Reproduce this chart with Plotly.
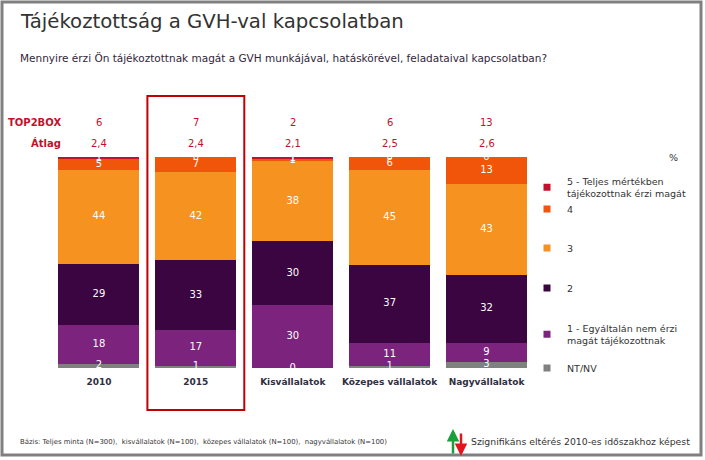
import plotly.graph_objects as go
import numpy as np

categories = ["2010", "2015", "Kisvállalatok", "Közepes vállalatok", "Nagyvállalatok"]
series_names = ["NT/NV", "1 - Egyáltalán nem érzi<br>magát tájékozottnak", "2", "3", "4",
                "5 - Teljes mértékben<br>tájékozottnak érzi magát"]
nt_nv = [2, 1, 0, 1, 3]
s1 = [18, 17, 30, 11, 9]
s2 = [29, 33, 30, 37, 32]
s3 = [44, 42, 38, 45, 43]
s4 = [5, 7, 1, 6, 13]
s5 = [1, 0, 1, 0, 0]
top2box = ["6", "7", "2", "6", "13"]
atlag = ["2,4", "2,4", "2,1", "2,5", "2,6"]
colors = ["#808080", "#7B237D", "#3B0541", "#F69220", "#F0550A", "#C3102B"]

series = [nt_nv, s1, s2, s3, s4, s5]
W, H = 705, 460
FONT = "DejaVu Sans"
CRIMSON = "#C3102B"

fig = go.Figure()
arr = np.array(series, dtype=float)
totals = arr.sum(axis=0)
norm = arr / totals * 100
cum = np.cumsum(norm, axis=0)
for i, (vals, name, col) in enumerate(zip(series, series_names, colors)):
    fig.add_trace(go.Bar(x=categories, y=vals, name=name, marker=dict(color=col, line=dict(width=0)),
                         showlegend=False, hoverinfo="skip"))
for i, vals in enumerate(series):
    mids = cum[i] - norm[i] / 2
    fig.add_trace(go.Scatter(x=categories, y=mids, mode="text", text=[str(v) for v in vals],
                             textfont=dict(color="white", size=10, family=FONT),
                             showlegend=False, hoverinfo="skip", cliponaxis=False))

# legends
legend_y = [368, 334.5, 288, 248, 209, 187.5]
layout_legends = {}
for i, (name, col) in enumerate(zip(series_names, colors)):
    lname = "legend" if i == 0 else f"legend{i+1}"
    fig.add_trace(go.Scatter(x=[None], y=[None], mode="markers", name=name,
                             marker=dict(symbol="square", size=7, color=col),
                             legend=lname, showlegend=True))
    layout_legends[lname] = dict(x=527 / W, xanchor="left", y=1 - legend_y[i] / H, yanchor="middle",
                                 bgcolor="rgba(0,0,0,0)", font=dict(family=FONT, size=9.5, color="#333333"),
                                 itemclick=False, itemdoubleclick=False)

x0, x1 = 50.5 / W, 535 / W
fig.update_layout(
    width=W, height=H, margin=dict(l=0, r=0, t=0, b=0),
    paper_bgcolor="white", plot_bgcolor="white",
    barmode="stack", barnorm="percent", bargap=0.165,
    xaxis=dict(type="category", domain=[x0, x1], range=[-0.5, 4.5], showgrid=False, zeroline=False,
               showline=False, ticks="", tickmode="array", tickvals=categories, ticklabelstandoff=7,
               ticktext=[f"<b>{c}</b>" for c in categories],
               tickfont=dict(family=FONT, size=9, color="#2F2F3F"), fixedrange=True),
    yaxis=dict(domain=[1 - 368 / H, 1 - 157 / H], range=[0, 100], visible=False, fixedrange=True),
    **layout_legends,
)

ann = []
ann.append(dict(text="Tájékoztottság a GVH-val kapcsolatban", x=18 / W, y=1 - 22 / H, xref="paper", yref="paper",
                xanchor="left", yanchor="middle", showarrow=False, font=dict(family=FONT, size=19.7, color="#333333")))
ann.append(dict(text="Mennyire érzi Ön tájékoztottnak magát a GVH munkájával, hatáskörével, feladataival kapcsolatban?",
                x=18 / W, y=1 - 58 / H, xref="paper", yref="paper", xanchor="left", yanchor="middle",
                showarrow=False, font=dict(family=FONT, size=10.5, color="#33263A")))
ann.append(dict(text="<b>TOP2BOX</b>", x=63 / W, y=1 - 122 / H, xref="paper", yref="paper", xanchor="right",
                yanchor="middle", showarrow=False, font=dict(family=FONT, size=10, color=CRIMSON)))
ann.append(dict(text="<b>Átlag</b>", x=63 / W, y=1 - 143 / H, xref="paper", yref="paper", xanchor="right",
                yanchor="middle", showarrow=False, font=dict(family=FONT, size=10, color=CRIMSON)))
for idx, (t, a) in enumerate(zip(top2box, atlag)):
    ann.append(dict(text=t, x=idx, y=1 - 122 / H, xref="x", yref="paper", yanchor="middle", showarrow=False,
                    font=dict(family=FONT, size=10, color=CRIMSON)))
    ann.append(dict(text=a, x=idx, y=1 - 143 / H, xref="x", yref="paper", yanchor="middle", showarrow=False,
                    font=dict(family=FONT, size=10, color=CRIMSON)))
ann.append(dict(text="%", x=680 / W, y=1 - 150 / H, xref="paper", yref="paper", showarrow=False,
                font=dict(family=FONT, size=9.5, color="#333333")))
ann.append(dict(text="Bázis: Teljes minta (N=300),  kisvállalatok (N=100),  közepes vállalatok (N=100),  nagyvállalatok (N=100)",
                x=18 / W, y=1 - 442 / H, xref="paper", yref="paper", xanchor="left", yanchor="middle",
                showarrow=False, font=dict(family=FONT, size=6.9, color="#333333")))
ann.append(dict(text="Szignifikáns eltérés 2010-es időszakhoz képest", x=469 / W, y=1 - 441 / H, xref="paper",
                yref="paper", xanchor="left", yanchor="middle", showarrow=False,
                font=dict(family=FONT, size=9.3, color="#333333")))
ann.append(dict(text="", x=453 / W, y=1 - 429 / H, xref="paper", yref="paper", showarrow=True, ax=0, ay=26,
                arrowhead=2, arrowsize=1, arrowwidth=2.5, arrowcolor="#1AA03A"))
ann.append(dict(text="", x=461 / W, y=1 - 456 / H, xref="paper", yref="paper", showarrow=True, ax=0, ay=-24,
                arrowhead=2, arrowsize=1, arrowwidth=2.5, arrowcolor="#E3141E"))
fig.update_layout(annotations=ann)

shapes = [
    dict(type="rect", xref="paper", yref="paper", x0=2 / W, x1=701 / W, y0=1 - 455 / H, y1=1 - 2 / H,
         line=dict(color="#808080", width=3), fillcolor="rgba(0,0,0,0)"),
    dict(type="rect", xref="x", yref="paper", x0=0.5, x1=1.5, y0=1 - 410 / H, y1=1 - 96 / H,
         line=dict(color="#C00000", width=2), fillcolor="rgba(0,0,0,0)"),
]
fig.update_layout(shapes=shapes)

fig.write_html("out.html", config={"displayModeBar": False},
               post_script="document.body.style.margin='0';document.body.style.overflow='hidden';")
